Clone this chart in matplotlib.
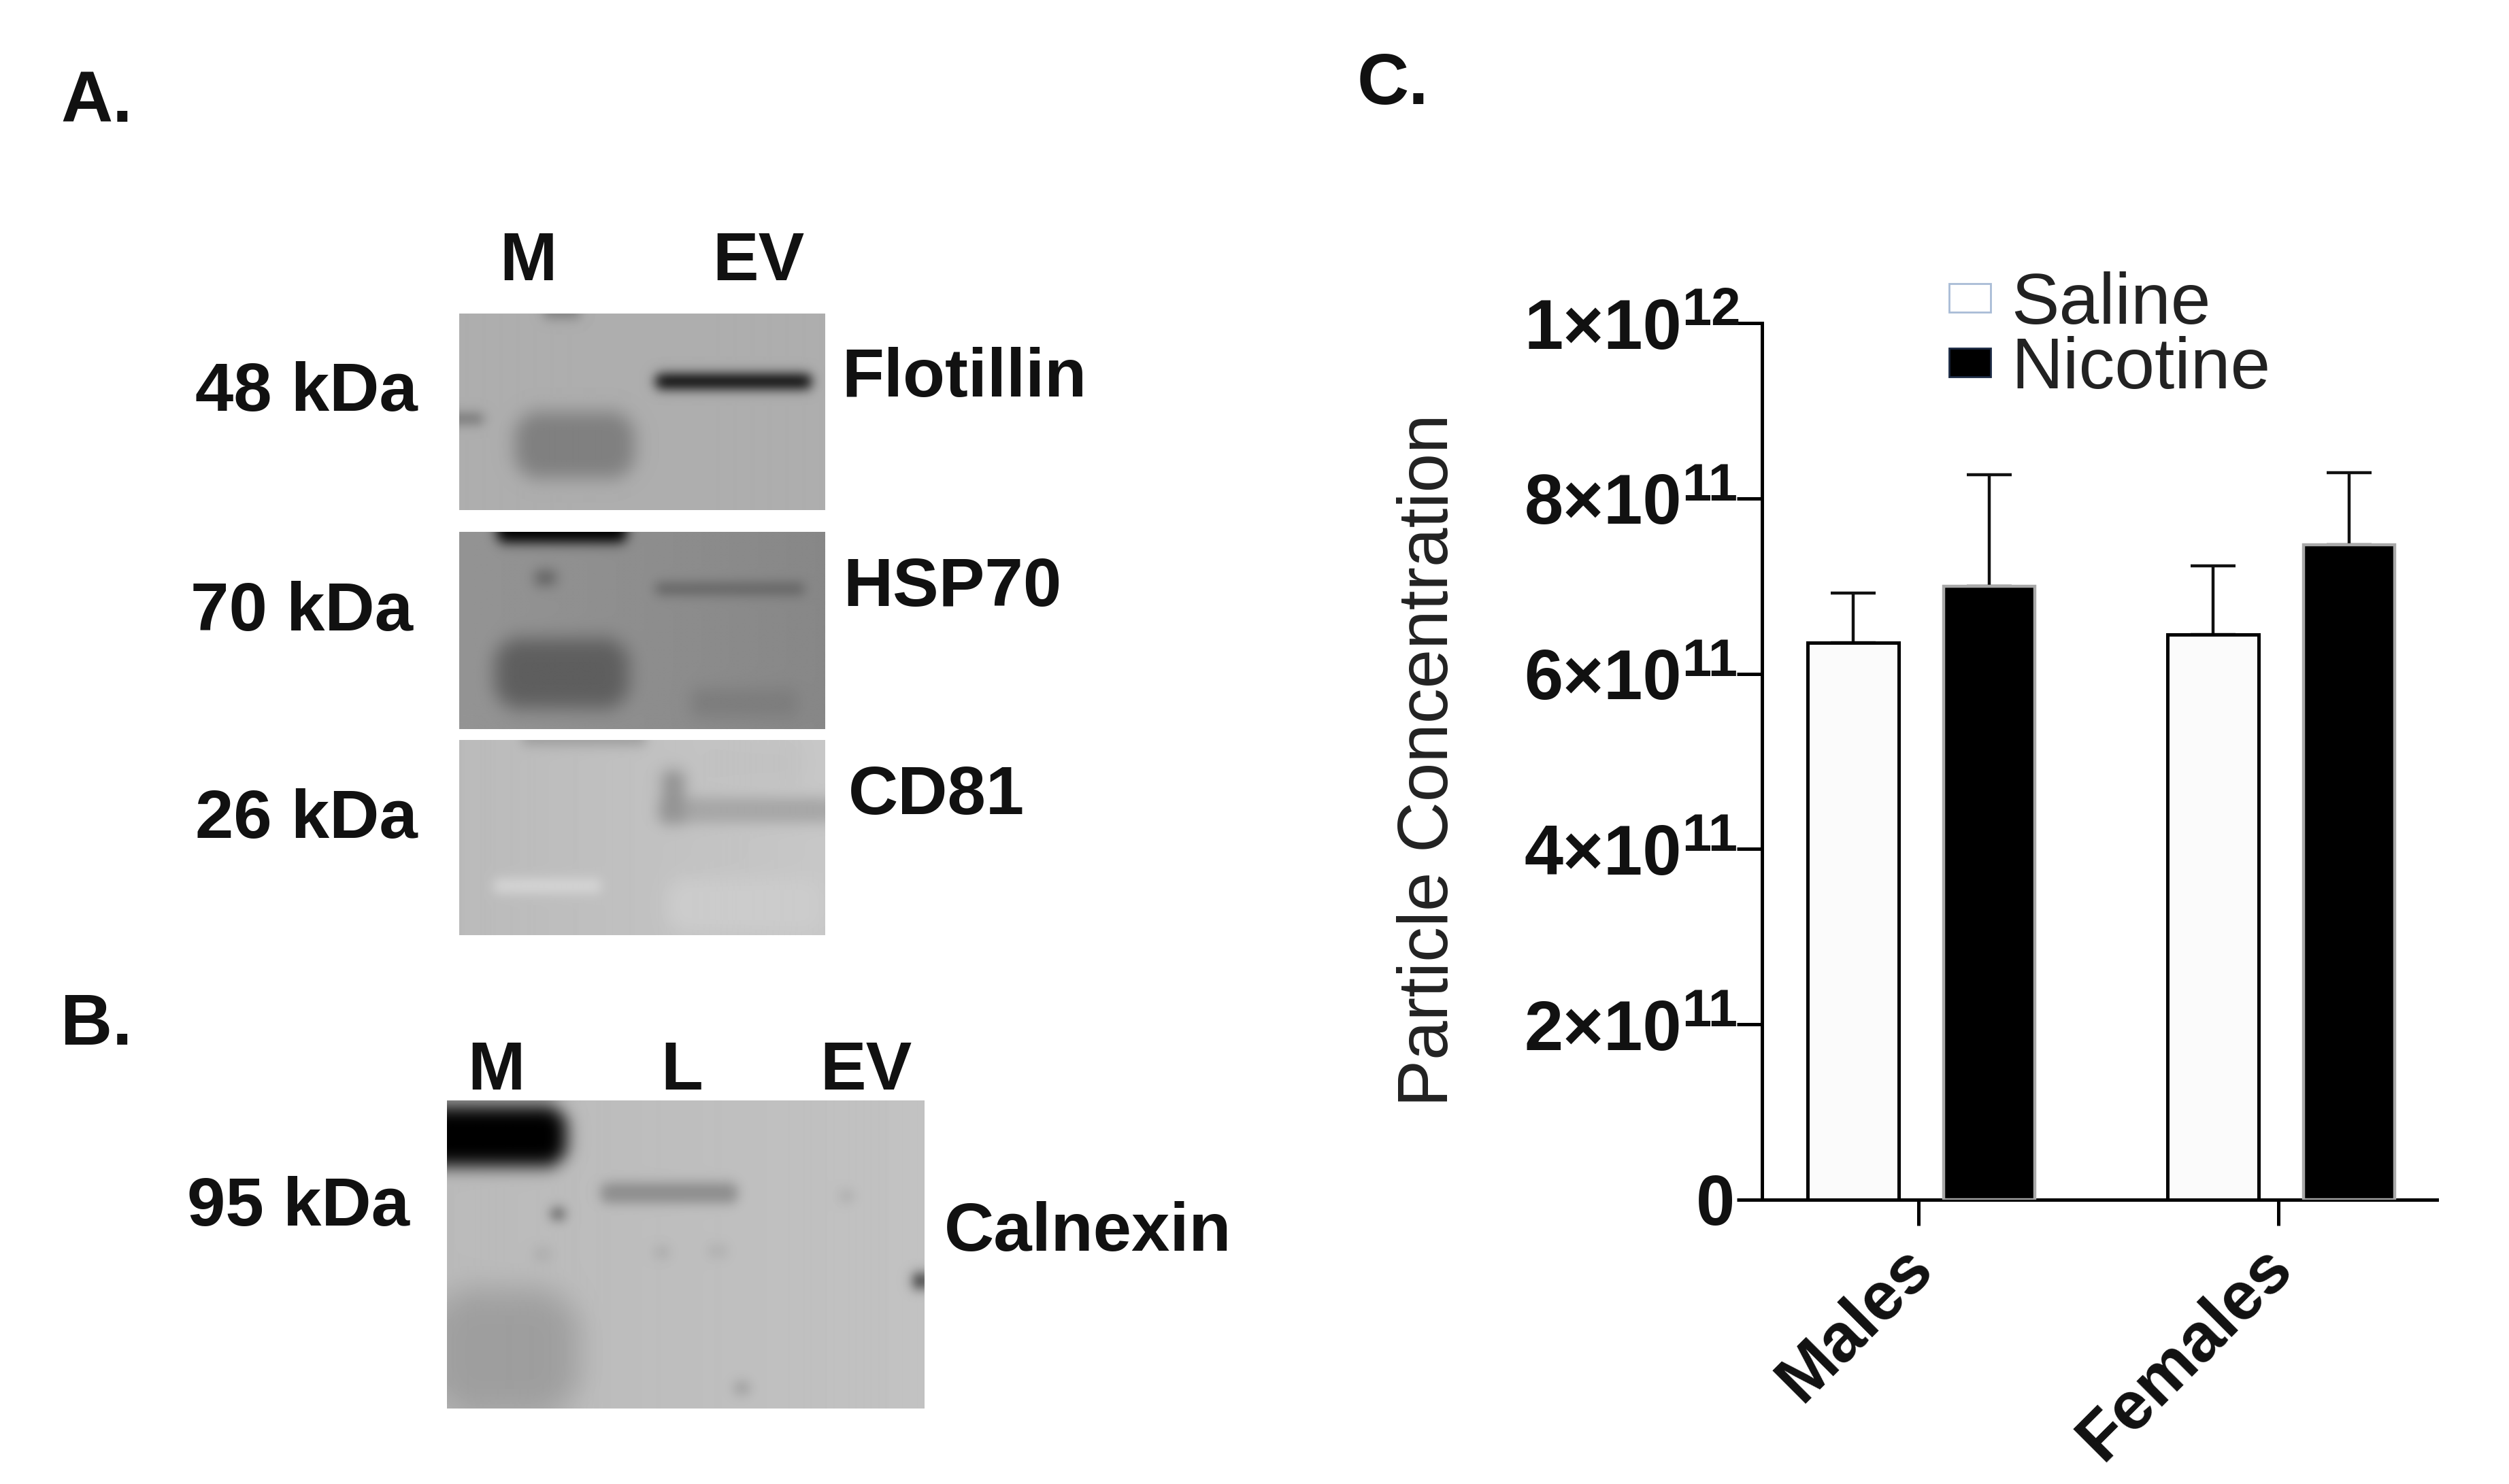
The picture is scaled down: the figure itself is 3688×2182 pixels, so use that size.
import numpy as np
import matplotlib
matplotlib.use("Agg")
import matplotlib.pyplot as plt
from matplotlib.transforms import ScaledTranslation

W, H = 3688, 2182
plt.rcParams['font.family'] = ['Liberation Sans', 'DejaVu Sans']

# ---- data ----
groups = ['Males', 'Females']
series_names = ['Saline', 'Nicotine']
saline_mean = [0.635e12, 0.645e12]
saline_top = [0.692e12, 0.723e12]
nicotine_mean = [0.700e12, 0.747e12]
nicotine_top = [0.827e12, 0.829e12]
y_ticks = [0, 2e11, 4e11, 6e11, 8e11, 1e12]
y_tick_labels = ['0', '2×10', '4×10', '6×10', '8×10', '1×10']
y_tick_exponents = ['', '11', '11', '11', '11', '12']

# blot content: (cx, cy, sx, sy, power, grey) in fractions of each blot
flot_bg = (0.68, 0.68)
flot_blobs = [(0.315, 0.67, 0.17, 0.18, 4.0, 0.50),
              (0.75, 0.345, 0.215, 0.04, 4.0, 0.02),
              (0.01, 0.535, 0.055, 0.025, 2.0, 0.42),
              (0.28, 0.0, 0.05, 0.025, 2.0, 0.50)]
hsp_bg = (0.58, 0.53)
hsp_blobs = [(0.28, 0.0, 0.18, 0.06, 4.0, 0.0),
             (0.235, 0.235, 0.03, 0.04, 2.0, 0.38),
             (0.74, 0.29, 0.205, 0.03, 3.0, 0.38),
             (0.28, 0.72, 0.19, 0.19, 4.0, 0.37),
             (0.78, 0.87, 0.15, 0.08, 2.0, 0.49)]
cd_bg = (0.73, 0.78)
cd_blobs = [(0.78, 0.36, 0.24, 0.07, 3.0, 0.65),
            (0.585, 0.29, 0.035, 0.14, 2.0, 0.58),
            (0.80, 0.12, 0.14, 0.11, 2.0, 0.76),
            (0.24, 0.75, 0.15, 0.04, 3.0, 0.84),
            (0.34, 0.0, 0.17, 0.03, 2.0, 0.62),
            (0.78, 0.85, 0.22, 0.15, 3.0, 0.80)]
cal_bg = (0.73, 0.76)
cal_blobs = [(0.10, 0.115, 0.155, 0.105, 4.0, 0.0),
             (0.465, 0.30, 0.145, 0.035, 4.0, 0.55),
             (0.12, 0.82, 0.165, 0.22, 4.0, 0.62),
             (0.232, 0.368, 0.014, 0.018, 2.0, 0.30),
             (0.99, 0.586, 0.012, 0.025, 2.0, 0.10),
             (0.618, 0.935, 0.016, 0.02, 2.0, 0.60),
             (0.838, 0.311, 0.014, 0.018, 2.0, 0.66),
             (0.45, 0.494, 0.015, 0.02, 2.0, 0.66),
             (0.567, 0.49, 0.02, 0.02, 2.0, 0.68),
             (0.20, 0.50, 0.02, 0.025, 2.0, 0.68)]
blot_blur_sigma = 8.0


def soften(img, sigma):
    n = int(3 * sigma)
    kern = np.exp(-0.5 * (np.arange(-n, n + 1) / sigma) ** 2)
    kern /= kern.sum()
    for axis in (0, 1):
        pad = [(n, n) if i == axis else (0, 0) for i in range(2)]
        img = np.apply_along_axis(lambda v: np.convolve(v, kern, mode='valid'), axis,
                                  np.pad(img, pad, mode='edge'))
    return img


def blot(bg, blobs, w, h):
    x, y = np.meshgrid(np.linspace(0, 1, w), np.linspace(0, 1, h))
    img = bg[0] + (bg[1] - bg[0]) * x
    for cx, cy, sx, sy, p, g in blobs:
        # rounded-box distance: flat core, soft rounded ends
        rad = 0.8 * min(sx * w, sy * h)
        kx, ky = rad / (sx * w), rad / (sy * h)
        dx = np.maximum(np.abs(x - cx) / sx - (1 - kx), 0) / kx
        dy = np.maximum(np.abs(y - cy) / sy - (1 - ky), 0) / ky
        r = np.sqrt(dx ** 2 + dy ** 2)
        img = img + (g - img) * np.exp(-r ** p)
    return soften(img, blot_blur_sigma)


fig = plt.figure(figsize=(W / 100, H / 100), dpi=100, facecolor='white')


def place(x0, y0, x1, y1):
    return fig.add_axes([x0 / W, 1 - y1 / H, (x1 - x0) / W, (y1 - y0) / H])


for bg, blobs, box in [(flot_bg, flot_blobs, (675, 461, 1212, 750)),
                       (hsp_bg, hsp_blobs, (675, 782, 1212, 1072)),
                       (cd_bg, cd_blobs, (675, 1088, 1212, 1375)),
                       (cal_bg, cal_blobs, (657, 1618, 1358, 2071))]:
    a = place(*box)
    a.imshow(blot(bg, blobs, box[2] - box[0], box[3] - box[1]), cmap='gray',
             vmin=0, vmax=1, aspect='auto', interpolation='bilinear')
    a.axis('off')

S = 2.352
BOLD = dict(fontweight='bold', color='#111111')


def label(x, y, s, size=73, ha='left'):
    fig.text(x * S / W, 1 - y * S / H, s, fontsize=size, ha=ha, va='baseline', **BOLD)


label(38, 76, 'A.', 76)
label(38, 653, 'B.', 76)
label(848, 65, 'C.', 76)
label(330, 175, 'M', 73, 'center')
label(474, 175, 'EV', 73, 'center')
label(122, 257, '48 kDa')
label(119, 394, '70 kDa')
label(122, 524, '26 kDa')
label(117, 766, '95 kDa')
label(526, 248, 'Flotillin')
label(527, 379, 'HSP70')
label(530, 509, 'CD81')
label(590, 782, 'Calnexin')
label(310, 681, 'M', 73, 'center')
label(426, 681, 'L', 73, 'center')
label(541, 681, 'EV', 73, 'center')

# ---- bar chart ----
ax = place(2590, 475, 3582, 1764)
pos = np.arange(len(groups))
off_s, off_n, bw = -0.1823, 0.1957, 0.253
b1 = ax.bar(pos + off_s, saline_mean, bw, facecolor='#fbfbfb', edgecolor='black',
            linewidth=3.6, label=series_names[0])
b2 = ax.bar(pos + off_n, nicotine_mean, bw, facecolor='black', edgecolor='#a8a8a8',
            linewidth=3.2, label=series_names[1])
for xs, mean, top in [(pos + off_s, saline_mean, saline_top),
                      (pos + off_n, nicotine_mean, nicotine_top)]:
    ax.errorbar(xs, mean, yerr=[np.zeros(2), np.array(top) - np.array(mean)], fmt='none',
                ecolor='#111111', elinewidth=3.2, capsize=24, capthick=3.2, zorder=1)
for b in list(b1) + list(b2):
    b.set_zorder(3)

ax.set_xlim(-0.4356, 1.44)
ax.set_ylim(0, 1e12)
ax.set_yticks(y_ticks)
ax.set_yticklabels(y_tick_labels, fontsize=74, fontweight='bold', color='#111111')
ax.tick_params(axis='y', length=27, width=3.6, pad=58)
ax.yaxis.get_major_ticks()[0].set_pad(2)
for val, exp in zip(y_ticks, y_tick_exponents):
    if exp:
        ax.annotate(exp, xy=(0, val), xycoords=('axes fraction', 'data'),
                    xytext=(-118 * 0.72, -3 * 0.72), textcoords='offset points',
                    fontsize=56, ha='left', va='baseline', **BOLD)

ax.set_xticks(pos)
ax.set_xticklabels(groups, fontsize=72, fontweight='bold', color='#111111',
                   rotation=45, ha='right', rotation_mode='anchor')
ax.tick_params(axis='x', length=27, width=3.6, pad=16)
shift = ScaledTranslation(-28 / 100, 8 / 100, fig.dpi_scale_trans)
for t in ax.get_xticklabels():
    t.set_transform(t.get_transform() + shift)
for s in ['top', 'right']:
    ax.spines[s].set_visible(False)
for s in ['left', 'bottom']:
    ax.spines[s].set_linewidth(3.6)
fig.text(893.5 * S / W, 1 - 475 * S / H, 'Particle Concentration', fontsize=74.5, rotation=90,
         ha='center', va='center', color='#222222', fontweight='normal')

leg = ax.legend(handles=[b1, b2], labels=series_names, loc='upper left',
                bbox_to_anchor=((1218 * S - 2590) / 992, 1.059), frameon=False,
                fontsize=76, handlelength=0.58, handleheight=0.24, handletextpad=0.29,
                labelspacing=-0.036, borderpad=0, borderaxespad=0, labelcolor='#222222')
h = leg.legend_handles
h[0].set_edgecolor('#a9bcd6')
h[0].set_facecolor('white')
h[0].set_linewidth(2)
h[1].set_edgecolor('#1c2a44')
h[1].set_linewidth(2)

fig.savefig('out.png', dpi=100, facecolor='white')
